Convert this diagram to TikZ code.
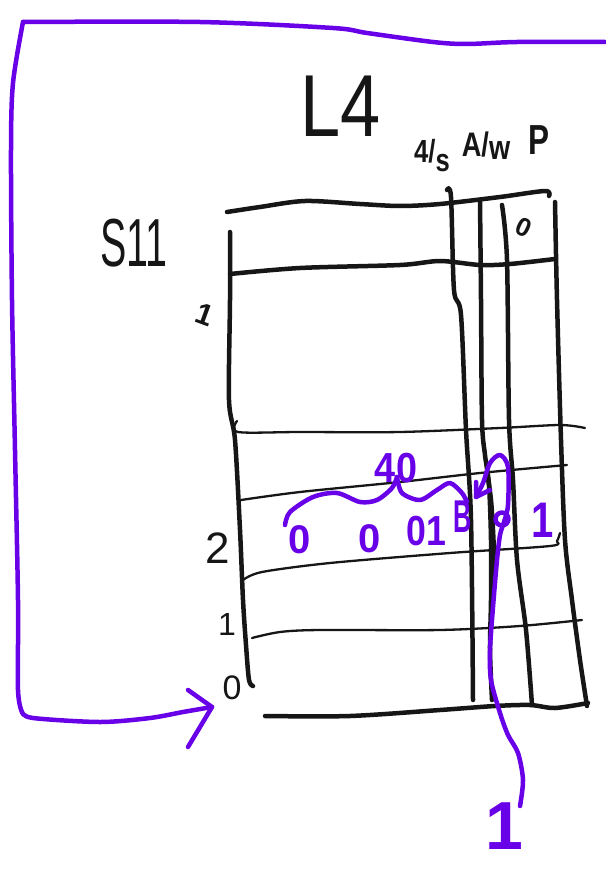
\documentclass[tikz,border=0pt]{standalone}
\usepackage{fontspec}
\setmainfont{Liberation Sans}
\definecolor{pen}{RGB}{104,0,232}
\definecolor{ink}{RGB}{22,22,22}
\begin{document}
\begin{tikzpicture}[x=1pt,y=-1pt,
  heavy/.style={ink,line width=4.5pt,line cap=round,line join=round},
  light/.style={ink,line width=2.3pt,line cap=round,line join=round},
  purp/.style={pen,line width=4.5pt,line cap=round,line join=round},
  lbl/.style={ink,inner sep=0pt},
  plbl/.style={pen,inner sep=0pt}]
\useasboundingbox (0,0) rectangle (605,869);
% purple frame
\draw[purp] plot[smooth,tension=0.5] coordinates {(605,42) (517,42) (467,44) (433,42) (367,33) (333,28) (200,22) (23,22)};
\draw[purp] plot[smooth,tension=0.5] coordinates {(23,22) (13,83) (11,150) (12,300) (15,450) (18,600) (18,690) (22,712)};
\draw[purp] plot[smooth,tension=0.5] coordinates {(22,712) (33,718) (100,722) (150,718) (183,712) (212,707)};
\coordinate (tip) at (212,707);
\draw[purp] (188,690) -- (tip) -- (188,747);
% table outline
\draw[heavy] plot[smooth,tension=0.5] coordinates {(227,212) (260,207) (305,201) (360,204) (400,206) (440,204) (500,197) (545,191) (549,196)};
\draw[heavy] plot[smooth,tension=0.5] coordinates {(230,274) (300,268) (400,265) (440,261) (480,265) (510,264) (555,259)};
\draw[heavy] plot[smooth,tension=0.5] coordinates {(230,232) (230,300) (229,400) (235,440) (240,530) (243,600) (246,645) (249,680) (253,686)};
\draw[heavy] plot[smooth,tension=0.5] coordinates {(265,716) (350,716) (440,710) (495,706) (530,705) (555,708) (588,703)};
% row lines
\draw[light] plot[smooth,tension=0.5] coordinates {(237,421) (238,432) (300,432) (400,432) (500,428) (560,425) (585,428)};
\draw[light] plot[smooth,tension=0.5] coordinates {(241,500) (300,492) (400,482) (480,473) (567,465)};
\draw[light] plot[smooth,tension=0.5] coordinates {(243,580) (262,572) (330,563) (450,553) (550,546) (557,541) (560,533)};
\draw[light] plot[smooth,tension=0.5] coordinates {(252,638) (280,632) (320,630) (440,630) (520,626) (582,620)};
% column lines
\draw[heavy] plot[smooth,tension=0.5] coordinates {(447,190) (451,197) (454,290) (461,315) (466,430) (471,520) (473,700)};
\draw[heavy] plot[smooth,tension=0.5] coordinates {(480,200) (481,300) (482,420) (485,455) (489,485) (491,540) (491,600) (490,650) (492,700)};
\draw[heavy] plot[smooth,tension=0.5] coordinates {(488,478) (491,500) (493,530) (495,575)};
\draw[heavy] plot[smooth,tension=0.5] coordinates {(502,205) (507,260) (509,420) (513,480) (517,560) (526,630) (532,705)};
\draw[heavy] plot[smooth,tension=0.5] coordinates {(555,202) (557,300) (561,440) (565,540) (572,600) (580,660) (587,706)};
% black labels
\node[lbl,font=\fontsize{88}{88}\selectfont,xscale=0.82] (L4) at (341,106) {L4};
\node[lbl,font=\fontsize{68}{68}\selectfont,xscale=0.58] (S11) at (134,243) {S11};
\node[lbl,font=\bfseries\fontsize{32}{32}\selectfont,xscale=0.8] (us) at (432,156) {4/\raisebox{-9pt}{s}};
\node[lbl,font=\bfseries\fontsize{34}{34}\selectfont,xscale=0.8] (aw) at (486,146) {A/\raisebox{-3pt}{w}};
\node[lbl,font=\bfseries\fontsize{42}{42}\selectfont,xscale=0.75] (p) at (539,140) {P};
\node[lbl,font=\bfseries\fontsize{26}{26}\selectfont,rotate=-25] (c0) at (524,227) {0};
\node[lbl,font=\bfseries\fontsize{30}{30}\selectfont,rotate=-20] (r1) at (205,315) {1};
\node[lbl,font=\fontsize{44}{44}\selectfont] (r2) at (218,548) {2};
\node[lbl,font=\fontsize{32}{32}\selectfont] (r3) at (227,624) {1};
\node[lbl,font=\fontsize{34}{34}\selectfont] (r4) at (232,688) {0};
% purple annotations
\node[plbl,font=\bfseries\fontsize{42}{42}\selectfont,xscale=0.9] (n40) at (396,468) {40};
\node[plbl,font=\bfseries\fontsize{40}{40}\selectfont] (z1) at (300,540) {0};
\node[plbl,font=\bfseries\fontsize{40}{40}\selectfont] (z2) at (370,539) {0};
\node[plbl,font=\bfseries\fontsize{42}{42}\selectfont,xscale=0.85] (z3) at (426,531) {01};
\node[plbl,font=\bfseries\fontsize{46}{46}\selectfont,xscale=0.55] (bb) at (463,517) {B};
\node[plbl,font=\bfseries\fontsize{50}{50}\selectfont,xscale=0.8] (o1) at (543,520) {1};
\node[plbl,font=\bfseries\fontsize{68}{68}\selectfont] (bot1) at (504,826) {1};
\draw[purp] plot[smooth,tension=0.5] coordinates {(285,525) (290,512) (313,497) (337,493) (360,502) (377,500) (392,488) (397,477)};
\draw[purp] plot[smooth,tension=0.5] coordinates {(397,477) (402,493) (420,500) (437,490) (450,483) (462,493) (467,502)};
% purple loop line from the bottom into the table
\coordinate (atip) at (476,497);
\draw[purp] plot[smooth,tension=0.5] coordinates {(520,806) (523,780) (518,753) (508,735) (500,713) (491,680) (490,650) (493,607) (497,560) (500,535) (504,522) (508,505) (508,467) (500,455) (490,463) (483,483) (atip)};
\draw[purp] (502,519) circle (6.5);
\draw[purp] (476,482) -- (atip) -- (490,490);
\end{tikzpicture}
\end{document}
